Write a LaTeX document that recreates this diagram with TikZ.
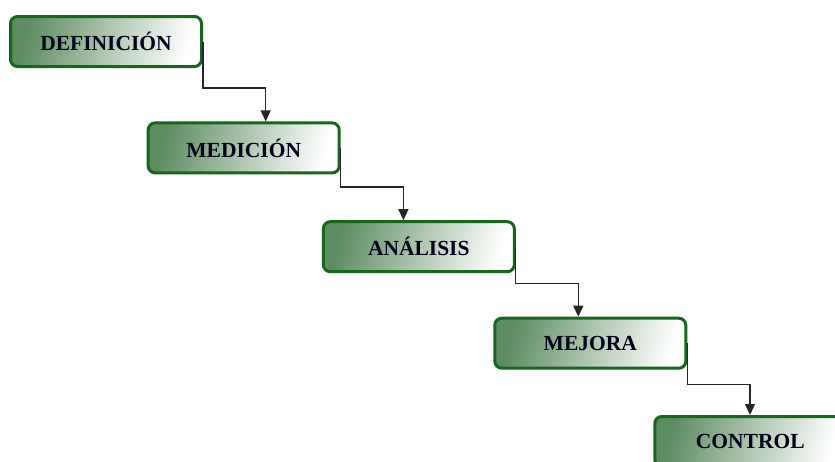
\documentclass[tikz,border=0pt]{standalone}
\usepackage{fontspec}
\setmainfont{Liberation Serif}
\usetikzlibrary{arrows.meta}
\definecolor{gborder}{RGB}{22,102,28}
\definecolor{gfill}{RGB}{92,140,96}
\begin{document}
\begin{tikzpicture}[x=1pt,y=1pt,
  stagebox/.style={draw=gborder, line width=3pt, rounded corners=7pt,
    minimum width=191pt, minimum height=50pt, inner sep=0pt,
    left color=gfill, right color=white, shading angle=75,
    font=\fontsize{21.5}{23}\selectfont\bfseries, text=black!90!blue},
  conn/.style={draw=black!85, line width=1.3pt, -{Triangle[length=11pt,width=10pt]}}]
\useasboundingbox (0,0) rectangle (835,-461);
\clip (0,0) rectangle (835,-461);
\fill[white] (0,0) rectangle (835,-461);
\node[stagebox] (d) at (106,-41.5) {DEFINICIÓN};
\node[stagebox] (m) at (243.7,-147.9) {MEDICIÓN};
\node[stagebox] (a) at (418.8,-246.7) {ANÁLISIS};
\node[stagebox] (j) at (590.3,-343.2) {MEJORA};
\node[stagebox] (c) at (750.3,-441.5) {CONTROL};
\draw[conn] (d.east) -- ([yshift=-20pt]d.south east) -| ([xshift=119pt]m.north west);
\draw[conn] (m.east) -- ([yshift=-12.7pt]m.south east) -| ([xshift=81.6pt]a.north west);
\draw[conn] (a.east) -- ([yshift=-10pt]a.south east) -| ([xshift=85pt]j.north west);
\draw[conn] (j.east) -- ([yshift=-15pt]j.south east) -| ([xshift=96.7pt]c.north west);
\end{tikzpicture}
\end{document}
